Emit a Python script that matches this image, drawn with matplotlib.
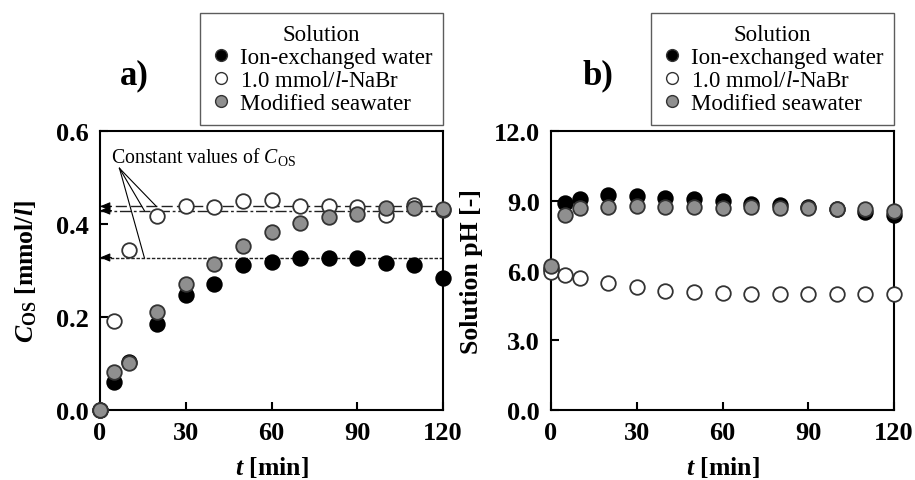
import matplotlib

matplotlib.use("Agg")
import matplotlib.pyplot as plt
from matplotlib.lines import Line2D

plt.rcParams["font.family"] = "Liberation Serif"
plt.rcParams["mathtext.fontset"] = "custom"
plt.rcParams["mathtext.rm"] = "Liberation Serif"
plt.rcParams["mathtext.it"] = "Liberation Serif:italic"
plt.rcParams["mathtext.bf"] = "Liberation Serif:bold"
plt.rcParams["mathtext.bfit"] = "Liberation Serif:bold:italic"

# time axis shared by both panels
t_min = [0, 5, 10, 20, 30, 40, 50, 60, 70, 80, 90, 100, 110, 120]

# panel a) C_OS [mmol/l]
cos_ion = [0.0, 0.060, 0.103, 0.184, 0.247, 0.271, 0.312, 0.319, 0.328, 0.328, 0.328, 0.317, 0.312, 0.284]
cos_nabr = [0.0, 0.191, 0.345, 0.417, 0.438, 0.436, 0.449, 0.452, 0.439, 0.439, 0.436, 0.420, 0.441, 0.430]
cos_sea = [0.0, 0.081, 0.101, 0.211, 0.271, 0.313, 0.353, 0.382, 0.403, 0.415, 0.421, 0.434, 0.434, 0.433]
const_nabr = 0.438
const_sea = 0.429
const_ion = 0.328

# panel b) solution pH
ph_ion = [6.05, 8.90, 9.08, 9.26, 9.19, 9.10, 9.08, 9.00, 8.86, 8.83, 8.72, 8.65, 8.50, 8.39]
ph_nabr = [5.92, 5.81, 5.66, 5.45, 5.27, 5.13, 5.06, 5.02, 4.99, 4.99, 4.99, 4.99, 4.99, 4.99]
ph_sea = [6.18, 8.39, 8.67, 8.72, 8.79, 8.75, 8.72, 8.69, 8.72, 8.67, 8.69, 8.65, 8.65, 8.57]

series_labels = ["Ion-exchanged water", "1.0 mmol/$\\it{l}$-NaBr", "Modified seawater"]
series_faces = ["black", "white", "#8f8f8f"]
series_edges = ["black", "#333333", "#333333"]

# annotation leader lines: text anchor and the three points on the constant lines
note_xy = (3.8, 0.547)
note_from = (6.8, 0.52)
note_to = [(19.7, const_nabr), (15.5, const_sea), (15.5, const_ion)]

fig = plt.figure(figsize=(9.15, 4.81), dpi=100)
ax_a = fig.add_axes([0.1093, 0.1455, 0.3749, 0.580])
ax_b = fig.add_axes([0.6022, 0.1455, 0.3749, 0.580])


def style_axis(ax, ylim, yticks, ytick_labels, ylabel, ylabelpad):
    ax.set_xlim(0, 120)
    ax.set_ylim(*ylim)
    ax.set_xticks([0, 30, 60, 90, 120])
    ax.set_yticks(yticks)
    ax.set_yticklabels(ytick_labels)
    ax.tick_params(direction="in", length=6, width=1.5, labelsize=19, top=False, right=False)
    ax.tick_params(axis="y", pad=8)
    ax.tick_params(axis="x", pad=8)
    for lab in ax.get_xticklabels() + ax.get_yticklabels():
        lab.set_fontweight("bold")
    for sp in ax.spines.values():
        sp.set_linewidth(1.5)
    ax.set_xlabel(r"$\mathbfit{t}$ [min]", fontsize=18.5, fontweight="bold", labelpad=7)
    ax.set_ylabel(ylabel, fontsize=18.5, fontweight="bold", labelpad=ylabelpad)


def draw_series(ax, ys):
    for y, face, edge in zip(ys, series_faces, series_edges):
        ax.plot(t_min, y, linestyle="none", marker="o", markersize=10.5,
                markerfacecolor=face, markeredgecolor=edge, markeredgewidth=1.3,
                clip_on=False, zorder=5)


def add_legend(ax):
    handles = [
        Line2D([], [], linestyle="none", marker="o", markersize=8.5,
               markerfacecolor=f, markeredgecolor="#333333", markeredgewidth=1.0)
        for f in series_faces
    ]
    leg = ax.legend(handles, series_labels, title="Solution", loc="upper right",
                    bbox_to_anchor=(1.0, 1.4219), fontsize=16.5, title_fontsize=16.5,
                    frameon=True, fancybox=False, edgecolor="#333333",
                    labelspacing=0.08, handlelength=0.9, handletextpad=0.35,
                    borderpad=0.48, borderaxespad=0.0)
    leg.get_frame().set_linewidth(1.0)


# panel a)
ax_a.axhline(const_nabr, color="#222222", lw=1.0, linestyle=(0, (8, 3)), zorder=2)
ax_a.axhline(const_sea, color="#222222", lw=1.0, linestyle=(0, (8, 2, 2, 2)), zorder=2)
ax_a.axhline(const_ion, color="#222222", lw=1.0, linestyle=(0, (2.5, 1.2)), zorder=2)
for yc in (const_nabr, const_sea, const_ion):
    ax_a.annotate("", xy=(0, yc), xytext=(4, yc),
                  arrowprops=dict(arrowstyle="-|>,head_length=0.6,head_width=0.25",
                                  color="black", lw=0.8, shrinkA=0, shrinkB=0))
for tx, ty in note_to:
    ax_a.plot([note_from[0], tx], [note_from[1], ty], color="black", lw=0.8, zorder=3)
ax_a.text(note_xy[0], note_xy[1], r"Constant values of $C_{\rm OS}$", fontsize=14.3,
          ha="left", va="center")
draw_series(ax_a, [cos_ion, cos_nabr, cos_sea])
style_axis(ax_a, (0, 0.6), [0.0, 0.2, 0.4, 0.6], ["0.0", "0.2", "0.4", "0.6"],
           r"$\mathbfit{C}_{\mathbf{OS}}$ [mmol/$\mathbfit{l}$]", 12)
ax_a.text(0.099, 1.20, "a)", transform=ax_a.transAxes, fontsize=25, fontweight="bold",
          ha="center", va="center")
add_legend(ax_a)

# panel b)
draw_series(ax_b, [ph_ion, ph_nabr, ph_sea])
style_axis(ax_b, (0, 12), [0.0, 3.0, 6.0, 9.0, 12.0], ["0.0", "3.0", "6.0", "9.0", "12.0"],
           "Solution pH [-]", 8)
ax_b.text(0.137, 1.20, "b)", transform=ax_b.transAxes, fontsize=25, fontweight="bold",
          ha="center", va="center")
add_legend(ax_b)

fig.savefig("out.png", dpi=100)
